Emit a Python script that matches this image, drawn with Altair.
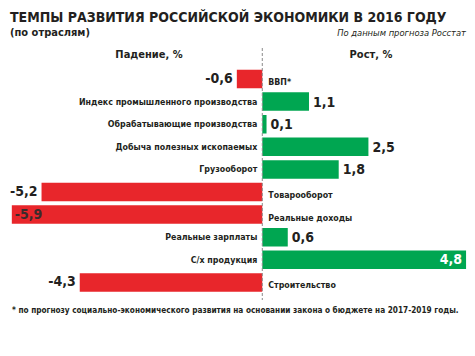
import altair as alt
import pandas as pd

categories = ["ВВП*", "Индекс промышленного производства", "Обрабатывающие  производства",
              "Добыча полезных ископаемых", "Грузооборот", "Товарооборот",
              "Реальные доходы", "Реальные зарплаты", "С/х продукция", "Строительство"]
values = [-0.6, 1.1, 0.1, 2.5, 1.8, -5.2, -5.9, 0.6, 4.8, -4.3]

title = "ТЕМПЫ РАЗВИТИЯ РОССИЙСКОЙ ЭКОНОМИКИ В 2016 ГОДУ"
subtitle = "(по отраслям)"
source = "По данным прогноза Росстат"
left_header = "Падение, %"
right_header = "Рост, %"
footnote = "* по прогнозу социально-экономического развития на основании закона о бюджете на 2017-2019 годы."

XMIN, XMAX = -5.99, 4.822
FONT = "'DejaVu Sans Condensed', 'Noto Sans', sans-serif"
INK = "#231f20"
RED = "#e8262b"
GREEN = "#00a651"

df = pd.DataFrame({"cat": categories, "val": values})
df["label"] = [f"{v:.1f}".replace(".", ",") for v in values]
df["sign"] = ["neg" if v < 0 else "pos" for v in values]
df["inside"] = [1 if ((v < -5.3) or (v > 4.1)) else 0 for v in values]
df["zero"] = 0.0

W, H = 459, 340
xscale = alt.Scale(domain=[XMIN, XMAX], nice=False, zero=False)
x = alt.X("val:Q", scale=xscale, axis=None)
x0 = alt.X("zero:Q", scale=xscale, axis=None)
y = alt.Y("cat:N", sort=categories,
          scale=alt.Scale(range=[59.7, 285.7], paddingInner=0.18, paddingOuter=0.09), axis=None)

base = alt.Chart(df)

bars = base.mark_bar().encode(
    x=x, x2="zero:Q", y=y,
    color=alt.Color("sign:N", scale=alt.Scale(domain=["neg", "pos"], range=[RED, GREEN]), legend=None),
)

rule = base.transform_filter("datum.cat == 'ВВП*'").mark_rule(
    color="#8a8a8a", strokeDash=[3, 2], strokeWidth=1
).encode(x=x0, y=alt.value(40), y2=alt.value(292))

CS = 8.8
VS = 14
cat_pos = base.transform_filter("datum.val >= 0").mark_text(
    align="right", baseline="middle", dx=-5, font=FONT, fontWeight="bold", fontSize=CS, color=INK
).encode(x=x0, y=y, text="cat:N")

cat_neg = base.transform_filter("datum.val < 0").mark_text(
    align="left", baseline="middle", dx=6, dy=3, font=FONT, fontWeight="bold", fontSize=CS, color=INK
).encode(x=x0, y=y, text="cat:N")

val_pos_out = base.transform_filter("datum.val >= 0 && datum.inside == 0").mark_text(
    align="left", baseline="middle", dx=4, dy=1, font=FONT, fontWeight="bold", fontSize=VS, color=INK
).encode(x=x, y=y, text="label:N")

val_neg_out = base.transform_filter("datum.val < 0 && datum.inside == 0").mark_text(
    align="right", baseline="middle", dx=-4, font=FONT, fontWeight="bold", fontSize=VS, color=INK
).encode(x=x, y=y, text="label:N")

val_neg_in = base.transform_filter("datum.val < 0 && datum.inside == 1").mark_text(
    align="left", baseline="middle", dx=3, font=FONT, fontWeight="bold", fontSize=VS, color="#3b2b2b"
).encode(x=x, y=y, text="label:N")

val_pos_in = base.transform_filter("datum.val >= 0 && datum.inside == 1").mark_text(
    align="right", baseline="middle", dx=-4, font=FONT, fontWeight="bold", fontSize=VS, color="white"
).encode(x=x, y=y, text="label:N")

def txt(s, xpos, ypos, align="left", size=12, weight="bold", style="normal"):
    return alt.Chart(pd.DataFrame({"t": [s]})).mark_text(
        align=align, baseline="alphabetic", font=FONT, fontSize=size, fontWeight=weight,
        fontStyle=style, color=INK
    ).encode(x=alt.value(xpos), y=alt.value(ypos), text="t:N")

texts = [
    txt(title, 2, 13.5, size=14),
    txt(subtitle, 2, 28, size=11),
    txt(source, 458, 28, align="right", size=9.3, weight="normal", style="italic"),
    txt(left_header, 141, 50, align="center", size=11),
    txt(right_header, 363, 50, align="center", size=11),
    txt(footnote, 4, 305, size=8.2),
]

chart = alt.layer(bars, rule, cat_pos, cat_neg, val_pos_out, val_neg_out, val_neg_in, val_pos_in, *texts).properties(
    width=W, height=H, autosize=alt.AutoSizeParams(type="none"), padding=0, background="white"
).configure_view(stroke=None)

chart.save("out.html", embed_options={"renderer": "svg", "actions": False})
